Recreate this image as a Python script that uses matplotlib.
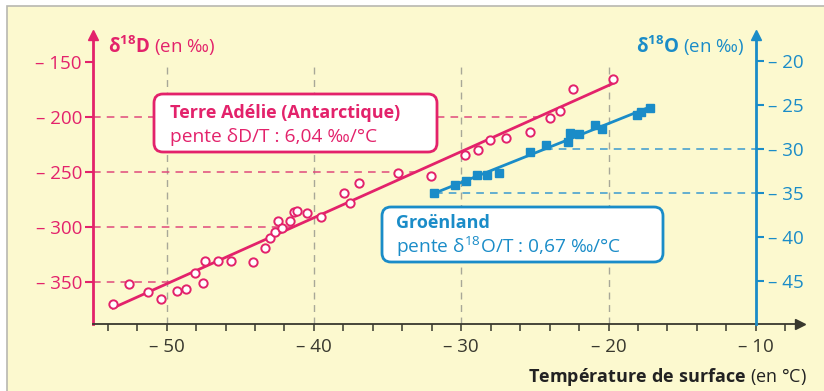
import numpy as np
import matplotlib
matplotlib.use('Agg')
import matplotlib.pyplot as plt
from matplotlib.patches import FancyBboxPatch, Rectangle

plt.rcParams['font.family'] = ['Open Sans', 'DejaVu Sans']
plt.rcParams['mathtext.fontset'] = 'custom'
plt.rcParams['mathtext.rm'] = 'Open Sans'
plt.rcParams['mathtext.bf'] = 'Open Sans:bold'
plt.rcParams['mathtext.it'] = 'Open Sans:italic'

# Terre Adélie (Antarctique) : température (°C), deltaD (‰)
adelie_T = [-53.65, -52.54, -51.27, -50.36, -49.32, -48.66, -48.10, -47.55, -47.40,
            -46.50, -45.60, -44.13, -43.29, -42.97, -42.65, -42.43, -42.16, -41.65,
            -41.36, -41.18, -40.46, -39.50, -37.94, -37.55, -36.96, -34.31, -32.04,
            -29.75, -28.86, -28.07, -26.96, -25.35, -23.99, -23.27, -22.40, -19.70]
adelie_D = [-370.6, -352.4, -359.4, -366.0, -358.2, -356.4, -342.0, -351.5, -331.4,
            -330.9, -331.4, -332.3, -319.6, -310.5, -304.8, -295.0, -300.8, -294.5,
            -286.3, -285.9, -287.2, -290.8, -269.0, -278.1, -260.2, -250.8, -253.8,
            -234.9, -230.4, -221.0, -218.9, -214.0, -201.3, -194.3, -174.9, -165.5]

# Groënland : température (°C), delta18O (‰)
groen_T = [-31.88, -30.45, -29.66, -28.91, -28.23, -27.46, -25.33, -24.22,
           -22.74, -22.63, -21.99, -20.90, -20.45, -18.07, -17.80, -17.16]
groen_O = [-35.0, -34.1, -33.6, -33.0, -33.0, -32.7, -30.4, -29.6,
           -29.2, -28.2, -28.3, -27.3, -27.7, -26.1, -25.8, -25.3]

x_major = [-50, -40, -30, -20, -10]
x_minor = list(range(-54, -6, 2))
d_ticks = [-150, -200, -250, -300, -350]
o_ticks = [-20, -25, -30, -35, -40, -45]
d_guides = [-200, -250, -300, -350]
o_guides = [-30, -35]
grid_T = [-50, -40, -30, -20]

pink = '#e3226b'
blue = '#1a8cc8'
dark = '#38382e'
bg = '#fcf9cf'

W, H = 824, 391
fig = plt.figure(figsize=(W / 100, H / 100), dpi=100)
fig.patch.set_facecolor('white')
fig.add_artist(Rectangle((7 / W, -0.05), 1.0, (H - 6) / H + 0.05, transform=fig.transFigure,
                         facecolor=bg, edgecolor='#b8b8b0', lw=1.2, zorder=-5))

ax = fig.add_axes([93 / W, 67 / H, 707 / W, 289 / H])
ax.patch.set_visible(False)
xmin, xmax = -55, -7
dmin, dmax = -388.6, -125.5
ax.set_xlim(xmin, xmax)
ax.set_ylim(dmin, dmax)

for s in ['top', 'right']:
    ax.spines[s].set_visible(False)
ax.spines['left'].set_color(pink)
ax.spines['left'].set_linewidth(2)
ax.spines['bottom'].set_color(dark)
ax.spines['bottom'].set_linewidth(1.3)
ax.plot(0, 1, '^', transform=ax.transAxes, clip_on=False, color=pink, ms=7)
ax.plot(1, 0, '>', transform=ax.transAxes, clip_on=False, color=dark, ms=7)

ax.set_xticks(x_major)
ax.set_xticks(x_minor, minor=True)
ax.set_xticklabels([f'– {abs(v)}' for v in x_major])
ax.tick_params(axis='x', which='both', direction='out', length=5, width=1.1,
               color=dark, labelcolor=dark, labelsize=13.5, pad=5)
ax.set_yticks(d_ticks)
ax.set_yticklabels([f'– {abs(v)}' for v in d_ticks])
ax.tick_params(axis='y', direction='out', length=6, width=1.5, color=pink,
               labelcolor=pink, labelsize=13.5, pad=2)

# vertical dashed grid
ax.vlines(grid_T, dmin, -150, colors='#a8a898', linestyles=(0, (5, 4)), lw=1, zorder=1)

# Terre Adélie
a_fit = np.polyfit(adelie_T, adelie_D, 1)
t_line = np.array([min(adelie_T), max(adelie_T)])
ax.plot(t_line, np.polyval(a_fit, t_line), color=pink, lw=2, zorder=3)
for d in d_guides:
    t_end = (d - a_fit[1]) / a_fit[0]
    ax.hlines(d, xmin, t_end, colors='#e04a7c', linestyles=(0, (5, 4)), lw=1.1, zorder=1)
ax.plot(adelie_T, adelie_D, 'o', ms=6, mfc='white', mec=pink, mew=1.4, zorder=4)

# Groënland
ax2 = ax.twinx()
ax2.set_ylim(-49.9, -17.05)
for s in ['top', 'left', 'bottom']:
    ax2.spines[s].set_visible(False)
ax2.spines['right'].set_position(('data', -10))
ax2.spines['right'].set_color(blue)
ax2.spines['right'].set_linewidth(2)
ax2.plot(-10, 1, '^', transform=ax2.get_xaxis_transform(), clip_on=False, color=blue, ms=7)
ax2.set_yticks(o_ticks)
ax2.set_yticklabels([f'– {abs(v)}' for v in o_ticks])
ax2.tick_params(axis='y', direction='out', length=6, width=1.5, color=blue,
                labelcolor=blue, labelsize=13.5, pad=3)

g_fit = np.polyfit(groen_T, groen_O, 1)
t_line = np.array([min(groen_T), max(groen_T)])
ax2.plot(t_line, np.polyval(g_fit, t_line), color=blue, lw=2, zorder=3)
for o in o_guides:
    t_start = (o - g_fit[1]) / g_fit[0]
    ax2.hlines(o, t_start, -10, colors='#3a9bd0', linestyles=(0, (5, 4)), lw=1.1, zorder=1)
ax2.plot(groen_T, groen_O, 's', ms=5.5, color=blue, zorder=4)

# axis titles
fig.text(108 / W, 1 - 53 / H, r'$\mathbf{δ^{18}D}$ (en ‰)', color=pink, fontsize=13.5,
         ha='left', va='baseline')
fig.text(744 / W, 1 - 53 / H, r'$\mathbf{δ^{18}O}$ (en ‰)', color=blue, fontsize=13.5,
         ha='right', va='baseline')
fig.text(807 / W, 1 - 382 / H, r'$\mathbf{Température\ de\ surface}$ (en °C)', color='#222222',
         fontsize=13, ha='right', va='baseline')


def boite(x0, y0, x1, y1, color):
    tr = fig.dpi_scale_trans
    p = FancyBboxPatch((x0 / 100, (H - y1) / 100), (x1 - x0) / 100, (y1 - y0) / 100,
                       boxstyle='round,pad=0,rounding_size=0.09', transform=tr,
                       facecolor='white', edgecolor=color, lw=2, zorder=5)
    fig.add_artist(p)


boite(154, 94, 437, 152, pink)
fig.text(170 / W, 1 - 118 / H, 'Terre Adélie (Antarctique)', color=pink, fontsize=13,
         fontweight='bold', ha='left', va='baseline', zorder=6)
fig.text(170 / W, 1 - 142 / H, 'pente δD/T : 6,04 ‰/°C', color=pink, fontsize=13.8,
         ha='left', va='baseline', zorder=6)

boite(382, 207, 663, 262, blue)
fig.text(396 / W, 1 - 228 / H, 'Groënland', color=blue, fontsize=13,
         fontweight='bold', ha='left', va='baseline', zorder=6)
fig.text(396 / W, 1 - 253 / H, r'pente δ$^{18}$O/T : 0,67 ‰/°C', color=blue, fontsize=13.8,
         ha='left', va='baseline', zorder=6)

fig.savefig('out.png', dpi=100)
